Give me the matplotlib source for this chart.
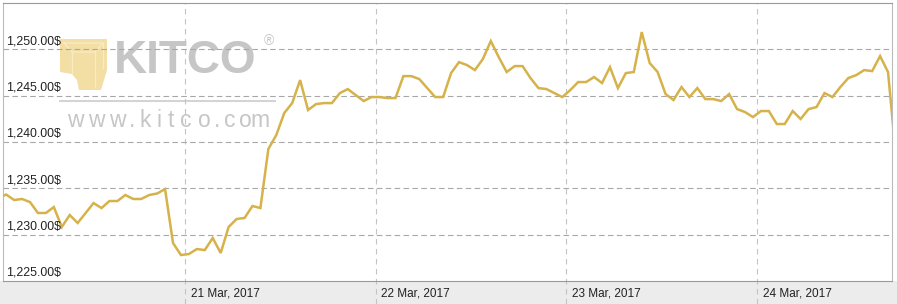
import matplotlib
matplotlib.use('Agg')
import matplotlib.pyplot as plt
from matplotlib.patches import Polygon, Rectangle
import numpy as np

plt.rcParams['font.family'] = ['Liberation Sans', 'DejaVu Sans']

# Hourly gold price (USD/oz), first point 20 Mar 2017 00:30
prices = [
    1233.95, 1234.33, 1233.74, 1233.85, 1233.52, 1232.34, 1232.34, 1232.98,
    1230.83, 1232.12, 1231.26, 1232.34, 1233.41, 1232.87, 1233.63, 1233.63,
    1234.28, 1233.85, 1233.85, 1234.28, 1234.44, 1234.92, 1229.10, 1227.80,
    1227.91, 1228.45, 1228.34, 1229.64, 1228.02, 1230.83, 1231.69, 1231.80,
    1233.09, 1232.87, 1239.24, 1240.75, 1243.12, 1244.20, 1246.68, 1243.45,
    1244.09, 1244.20, 1244.20, 1245.28, 1245.71, 1245.06, 1244.42, 1244.85,
    1244.85, 1244.74, 1244.74, 1247.11, 1247.11, 1246.79, 1245.82, 1244.85,
    1244.85, 1247.44, 1248.62, 1248.30, 1247.76, 1248.95, 1250.89, 1249.16,
    1247.55, 1248.19, 1248.19, 1246.90, 1245.82, 1245.71, 1245.28, 1244.85,
    1245.60, 1246.47, 1246.47, 1247.01, 1246.36, 1248.08, 1245.82, 1247.44,
    1247.55, 1251.86, 1248.52, 1247.55, 1245.17, 1244.53, 1245.93, 1244.85,
    1245.82, 1244.63, 1244.63, 1244.42, 1245.17, 1243.55, 1243.23, 1242.69,
    1243.34, 1243.34, 1241.94, 1241.94, 1243.34, 1242.48, 1243.55, 1243.77,
    1245.28, 1244.85, 1245.93, 1246.90, 1247.22, 1247.76, 1247.65, 1249.27,
    1247.55, 1238.40,
]
first_hour = 0.5  # hours after 20 Mar 2017 00:00
hours = first_hour + np.arange(len(prices))

y_levels = [1225, 1230, 1235, 1240, 1245, 1250]
y_labels = ['1,225.00$', '1,230.00$', '1,235.00$', '1,240.00$', '1,245.00$', '1,250.00$']
day_hours = [24, 48, 72, 96]
day_labels = ['21 Mar, 2017', '22 Mar, 2017', '23 Mar, 2017', '24 Mar, 2017']

W, H = 897, 304
fig = plt.figure(figsize=(W / 100, H / 100), dpi=100)
fig.patch.set_facecolor('white')

# background overlay in pixel coords (band + watermark)
bg = fig.add_axes([0, 0, 1, 1], zorder=0)
bg.set_xlim(0, W)
bg.set_ylim(H, 0)
bg.axis('off')
bg.add_patch(Rectangle((0, 281), W, 23, color='#ececec', lw=0))

gold = '#f3dea3'
bar = Polygon([(60, 39), (107, 39), (107, 70), (101, 90), (79, 90), (77, 80),
               (72, 74), (60, 72)], closed=True, fc=gold, ec='none')
bg.add_patch(bar)
lc = '#f8ebc6'
bg.plot([64, 103, 95, 72, 64], [43, 43, 52, 52, 43], color=lc, lw=1)
bg.plot([72, 72], [52, 74], color=lc, lw=1)
bg.plot([95, 95], [52, 87], color=lc, lw=1)
bg.plot([103, 103], [43, 68], color=lc, lw=1)
bg.text(114, 73, 'KITCO', fontsize=33, fontweight='bold', color='#c6c6c6',
        ha='left', va='baseline')
bg.text(264, 45, '\u00ae', fontsize=10, color='#c6c6c6', ha='left', va='baseline')
bg.plot([60, 275], [101, 101], color='#d4d4d4', lw=1.5)
chars = ['w', 'w', 'w', '.', 'k', 'i', 't', 'c', 'o', '.', 'c', 'o', 'm']
cx = [75, 96, 117, 132, 145, 159, 171, 186, 204, 217, 230, 245, 260]
for ch, x in zip(chars, cx):
    bg.text(x, 127, ch, fontsize=16.5, color='#c6c6c6', ha='center', va='baseline')

ax = fig.add_axes([3 / W, 23 / H, 889 / W, 278 / H], zorder=1)
ax.set_facecolor('none')
ax.set_xlim(1.1, 113.0)
ax.set_ylim(1225, 1255)

ax.set_yticks(y_levels[1:])
ax.set_xticks([])
ax.yaxis.grid(True, linestyle=(0, (5, 3)), color='#a8a8a8', lw=0.8)
ax.tick_params(axis='y', length=0, labelleft=False)

for d in day_hours:
    ax.axvline(d, ymin=-23 / 278, ymax=1, clip_on=False, color='#c4c4c4',
               lw=0.8, linestyle=(0, (5, 4)), zorder=1)

ax.plot(hours, prices, color='#d6b24a', lw=1.8, zorder=3, solid_joinstyle='miter')

for v, lab in zip(y_levels, y_labels):
    ax.annotate(lab, xy=(0, v), xycoords=ax.get_yaxis_transform(),
                xytext=(2.0, 1.5), textcoords='offset points',
                ha='left', va='bottom', fontsize=8.9, color='#222222', zorder=4)
for d, lab in zip(day_hours, day_labels):
    ax.annotate(lab, xy=(d, 0), xycoords=ax.get_xaxis_transform(),
                xytext=(4.2, -8.8), textcoords='offset points',
                ha='left', va='center', fontsize=8.5, color='#222222',
                annotation_clip=False)

for s in ['top', 'bottom']:
    ax.spines[s].set_color('#999999')
    ax.spines[s].set_linewidth(0.8)
for s in ['left', 'right']:
    ax.spines[s].set_color('#bbbbbb')
    ax.spines[s].set_linewidth(0.8)

fig.savefig('out.png', dpi=100, facecolor='white')
